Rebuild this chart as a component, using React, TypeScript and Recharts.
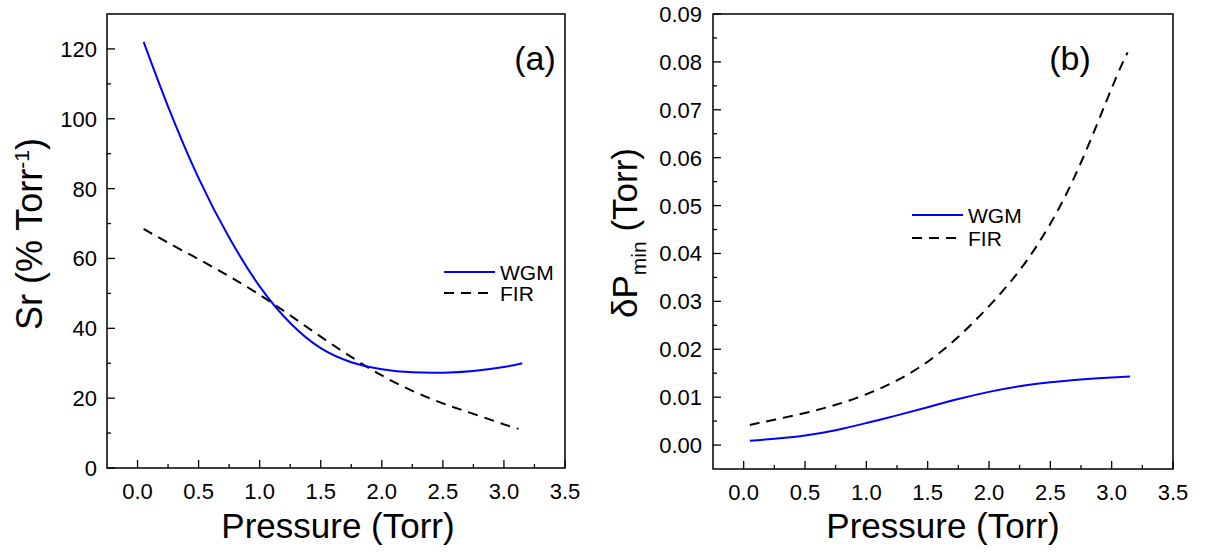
import React from "react";
import { LineChart, Line, XAxis, YAxis, ReferenceArea, Legend } from "recharts";

// panel (a) – relative sensitivity
const wgmPressureA = [0.05, 0.25, 0.5, 0.75, 1.0, 1.25, 1.5, 1.75, 2.0, 2.25, 2.5, 2.75, 3.0, 3.15];
const wgmSr = [122, 103.5, 83, 66, 52, 41.5, 34.3, 30.3, 28.3, 27.4, 27.3, 27.8, 28.9, 30];
const firPressureA = [0.05, 0.25, 0.5, 0.75, 1.0, 1.25, 1.5, 1.75, 2.0, 2.25, 2.5, 2.75, 3.0, 3.12];
const firSr = [68.5, 64.5, 59.8, 54.9, 49.6, 43.7, 37.6, 31.8, 26.5, 22.1, 18.5, 15.5, 12.5, 11.2];

// panel (b) – minimum detectable pressure change
const wgmPressureB = [0.05, 0.25, 0.5, 0.75, 1.0, 1.25, 1.5, 1.75, 2.0, 2.25, 2.5, 2.75, 3.0, 3.15];
const wgmDp = [0.0009, 0.0013, 0.002, 0.0031, 0.0046, 0.0062, 0.0079, 0.0096, 0.0111, 0.0123, 0.0131, 0.0137, 0.0141, 0.0143];
const firPressureB = [0.05, 0.25, 0.5, 0.75, 1.0, 1.25, 1.5, 1.75, 2.0, 2.25, 2.5, 2.75, 3.0, 3.13];
const firDp = [0.0042, 0.0053, 0.0067, 0.0084, 0.0106, 0.0135, 0.0174, 0.0226, 0.029, 0.0365, 0.0462, 0.059, 0.0745, 0.082];

const xTicks = [0, 0.25, 0.5, 0.75, 1.0, 1.25, 1.5, 1.75, 2.0, 2.25, 2.5, 2.75, 3.0, 3.25, 3.5];
const srTicks = [0, 10, 20, 30, 40, 50, 60, 70, 80, 90, 100, 110, 120];
const dpTicks = [0, 0.005, 0.01, 0.015, 0.02, 0.025, 0.03, 0.035, 0.04, 0.045, 0.05, 0.055, 0.06, 0.065, 0.07, 0.075, 0.08, 0.085, 0.09];

const FONT = "'Liberation Sans', Arial, sans-serif";
const BLUE = "#0000ff";
const DASH = "10 7";

const toPoints = (xs: number[], ys: number[]) => xs.map((p, i) => ({ p, v: ys[i] }));

const isMajor = (v: number, step: number) => Math.round(v / step) % 2 === 0;

function XTick(props: any) {
  const { x, y, payload } = props;
  const major = isMajor(payload.value, 0.25);
  return (
    <g>
      <line x1={x} x2={x} y1={y} y2={y - (major ? 8 : 4)} stroke="#000" strokeWidth={1.3} />
      {major && (
        <text x={x} y={y + 31} textAnchor="middle" fontSize={22} fontFamily={FONT} fill="#000">
          {payload.value.toFixed(1)}
        </text>
      )}
    </g>
  );
}

function makeYTick(step: number, digits: number, gap: number) {
  return (props: any) => {
    const { x, y, payload } = props;
    const major = isMajor(payload.value, step);
    return (
      <g>
        <line x1={x} x2={x + (major ? 8 : 4)} y1={y} y2={y} stroke="#000" strokeWidth={1.3} />
        {major && (
          <text x={x - gap} y={y + 8} textAnchor="end" fontSize={22} fontFamily={FONT} fill="#000">
            {payload.value.toFixed(digits)}
          </text>
        )}
      </g>
    );
  };
}

function LegendBox({ rowGap }: { rowGap: number }) {
  return (
    <svg width={130} height={rowGap + 24} style={{ display: "block" }}>
      <line x1={0} x2={51} y1={11} y2={11} stroke={BLUE} strokeWidth={2} />
      <text x={56} y={18.5} fontSize={21} fontFamily={FONT} fill="#000">WGM</text>
      <line x1={0} x2={51} y1={11 + rowGap} y2={11 + rowGap} stroke="#000" strokeWidth={2} strokeDasharray={DASH} />
      <text x={56} y={18.5 + rowGap} fontSize={21} fontFamily={FONT} fill="#000">FIR</text>
    </svg>
  );
}

export default function App() {
  return (
    <div style={{ position: "absolute", left: 0, top: 0, width: 1205, height: 552, background: "#fff" }}>
      <div style={{ position: "absolute", left: 0, top: 0 }}>
        <LineChart width={600} height={552} margin={{ top: 14, right: 35, bottom: 0, left: 0 }}>
          <XAxis
            type="number"
            dataKey="p"
            domain={[-0.25, 3.5]}
            ticks={xTicks}
            interval={0}
            allowDataOverflow
            height={84}
            tickSize={0}
            tickMargin={0}
            axisLine={false}
            tickLine={false}
            tick={XTick}
          />
          <YAxis
            type="number"
            domain={[0, 130]}
            ticks={srTicks}
            interval={0}
            allowDataOverflow
            width={107}
            tickSize={0}
            tickMargin={0}
            axisLine={false}
            tickLine={false}
            tick={makeYTick(10, 0, 10)}
          />
          <ReferenceArea x1={-0.25} x2={3.5} y1={0} y2={130} fill="none" stroke="#000" strokeWidth={1.5} ifOverflow="visible" />
          <Line data={toPoints(firPressureA, firSr)} dataKey="v" type="natural" stroke="#000" strokeWidth={2} strokeDasharray={DASH} dot={false} isAnimationActive={false} />
          <Line data={toPoints(wgmPressureA, wgmSr)} dataKey="v" type="natural" stroke={BLUE} strokeWidth={2} dot={false} isAnimationActive={false} />
          <Legend
            layout="vertical"
            align="center"
            verticalAlign="middle"
            wrapperStyle={{ left: 444, top: 261, width: 130 }}
            content={() => <LegendBox rowGap={21} />}
          />
        </LineChart>
      </div>
      <div style={{ position: "absolute", left: 600, top: 0 }}>
        <LineChart width={605} height={552} margin={{ top: 14, right: 32, bottom: 0, left: 0 }}>
          <XAxis
            type="number"
            dataKey="p"
            domain={[-0.25, 3.5]}
            ticks={xTicks}
            interval={0}
            allowDataOverflow
            height={83}
            tickSize={0}
            tickMargin={0}
            axisLine={false}
            tickLine={false}
            tick={XTick}
          />
          <YAxis
            type="number"
            domain={[-0.005, 0.09]}
            ticks={dpTicks}
            interval={0}
            allowDataOverflow
            width={113}
            tickSize={0}
            tickMargin={0}
            axisLine={false}
            tickLine={false}
            tick={makeYTick(0.005, 2, 11)}
          />
          <ReferenceArea x1={-0.25} x2={3.5} y1={-0.005} y2={0.09} fill="none" stroke="#000" strokeWidth={1.5} ifOverflow="visible" />
          <Line data={toPoints(firPressureB, firDp)} dataKey="v" type="natural" stroke="#000" strokeWidth={2} strokeDasharray={DASH} dot={false} isAnimationActive={false} />
          <Line data={toPoints(wgmPressureB, wgmDp)} dataKey="v" type="natural" stroke={BLUE} strokeWidth={2} dot={false} isAnimationActive={false} />
          <Legend
            layout="vertical"
            align="center"
            verticalAlign="middle"
            wrapperStyle={{ left: 312, top: 204, width: 130 }}
            content={() => <LegendBox rowGap={23} />}
          />
        </LineChart>
      </div>
      {/* axis titles and panel tags */}
      <svg width={1205} height={552} style={{ position: "absolute", left: 0, top: 0, pointerEvents: "none" }}>
        <g fontFamily={FONT} fill="#000">
          <text x={338} y={538} fontSize={35} textAnchor="middle">Pressure (Torr)</text>
          <text x={943} y={538} fontSize={35} textAnchor="middle">Pressure (Torr)</text>
          <text x={42} y={234} fontSize={36} textAnchor="middle" transform="rotate(-90 42 234)">
            Sr (% Torr<tspan fontSize={21} dy={-13}>-1</tspan><tspan dy={13}>)</tspan>
          </text>
          <text x={637} y={233} fontSize={35} textAnchor="middle" transform="rotate(-90 637 233)">
            δP<tspan fontSize={21} dy={9}>min</tspan><tspan dy={-9}> (Torr)</tspan>
          </text>
          <text x={535} y={70} fontSize={34} textAnchor="middle">(a)</text>
          <text x={1070} y={70} fontSize={34} textAnchor="middle">(b)</text>
        </g>
      </svg>
    </div>
  );
}
